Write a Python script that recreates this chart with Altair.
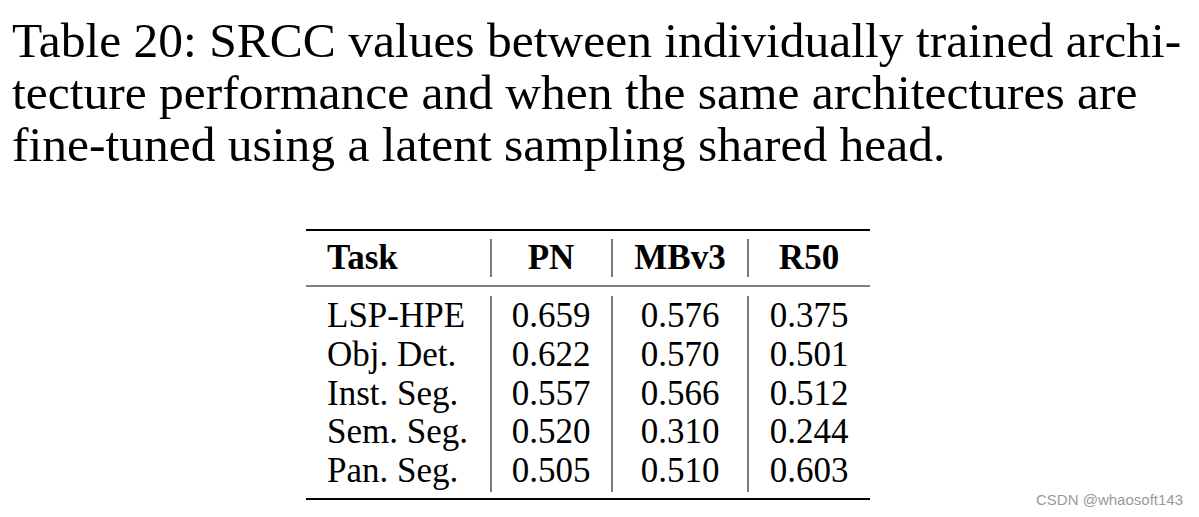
import altair as alt
import pandas as pd

caption_lines = [
    "Table 20: SRCC values between individually trained archi-",
    "tecture performance and when the same architectures are",
    "fine-tuned using a latent sampling shared head.",
]
columns = ["PN", "MBv3", "R50"]
tasks = ["LSP-HPE", "Obj. Det.", "Inst. Seg.", "Sem. Seg.", "Pan. Seg."]
pn = ["0.659", "0.622", "0.557", "0.520", "0.505"]
mbv3 = ["0.576", "0.570", "0.566", "0.310", "0.510"]
r50 = ["0.375", "0.501", "0.512", "0.244", "0.603"]

W, H = 1183, 501
SERIF = "Liberation Serif"

cells = []
for i, t in enumerate(tasks):
    for c, vals in zip(columns, [pn, mbv3, r50]):
        cells.append({"row": i, "col": c, "text": vals[i]})
cells_df = pd.DataFrame(cells)
tasks_df = pd.DataFrame({"row": list(range(len(tasks))), "text": tasks})
header_df = pd.DataFrame({"col": columns, "text": columns})
cap_df = pd.DataFrame({"line": list(range(3)), "text": caption_lines})

xcol = alt.X("col:N", scale=alt.Scale(type="point", domain=columns, range=[543, 801], padding=0), axis=None)
yrow = alt.Y("row:Q", scale=alt.Scale(domain=[0, 4], range=[319, 474]), axis=None)

base_txt = dict(font=SERIF, fontSize=35, color="black", baseline="alphabetic")

values = alt.Chart(cells_df).mark_text(align="center", **base_txt).encode(
    x=xcol, y=yrow, text="text:N")
task_txt = alt.Chart(tasks_df).mark_text(align="left", **base_txt).encode(
    x=alt.value(319), y=yrow, text="text:N")
header = alt.Chart(header_df).mark_text(align="center", fontWeight="bold", **base_txt).encode(
    x=xcol, y=alt.value(261), text="text:N")
task_head = alt.Chart(pd.DataFrame({"text": ["Task"]})).mark_text(
    align="left", fontWeight="bold", **base_txt).encode(
    x=alt.value(319), y=alt.value(261), text="text:N")

caption = alt.Chart(cap_df).mark_text(
    align="left", baseline="alphabetic", font=SERIF, fontSize=49.5, color="black").encode(
    x=alt.value(4),
    y=alt.Y("line:Q", scale=alt.Scale(domain=[0, 2], range=[49, 153]), axis=None),
    text="text:N")

def hrule(y, w):
    return alt.Chart(pd.DataFrame({"a": [0]})).mark_rule(color="black", strokeWidth=w).encode(
        x=alt.value(298), x2=alt.value(862), y=alt.value(y))

def vrule(x, y1, y2):
    return alt.Chart(pd.DataFrame({"a": [0]})).mark_rule(color="#333333", strokeWidth=1.3).encode(
        x=alt.value(x), y=alt.value(y1), y2=alt.value(y2))

rules = [hrule(222, 2.2), hrule(278, 1.2), hrule(491, 2.2)]
for xv in [483, 604, 740]:
    rules.append(vrule(xv, 231, 269))
    rules.append(vrule(xv, 288, 484))

watermark = alt.Chart(pd.DataFrame({"text": ["CSDN @whaosoft143"]})).mark_text(
    align="right", baseline="middle", font="Liberation Sans", fontSize=15, color="#9a9a9a").encode(
    x=alt.value(1175), y=alt.value(492), text="text:N")

chart = alt.layer(caption, *rules, values, task_txt, header, task_head, watermark).resolve_scale(
    x="independent", y="independent"
).properties(
    width=W, height=H, padding=0,
    autosize=alt.AutoSizeParams(type="fit", contains="padding"),
).configure_view(strokeWidth=0)

chart.save("out.html", embed_options={"renderer": "svg", "actions": False})
